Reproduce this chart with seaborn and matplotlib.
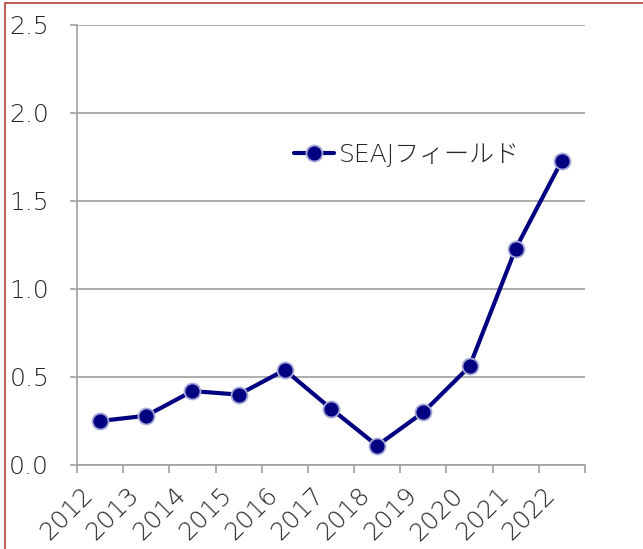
import matplotlib
matplotlib.use('Agg')
import matplotlib.pyplot as plt
import matplotlib.transforms as mtransforms
import seaborn as sns
import pandas as pd
import numpy as np
from matplotlib.lines import Line2D

years = ['2012', '2013', '2014', '2015', '2016', '2017', '2018', '2019', '2020', '2021', '2022']
values = [0.25, 0.28, 0.42, 0.40, 0.54, 0.32, 0.11, 0.30, 0.56, 1.23, 1.73]
series_name = 'SEAJフィールド'
yticks = [0.0, 0.5, 1.0, 1.5, 2.0, 2.5]

df = pd.DataFrame({'year': years, 'value': values})

sns.set_style('white')
plt.rcParams['font.family'] = ['DejaVu Sans', 'Noto Sans CJK JP']

fig = plt.figure(figsize=(6.43, 5.49), dpi=100)
ax = fig.add_axes([77 / 643, 1 - 465 / 549, 508 / 643, 440 / 549])

sns.lineplot(data=df, x='year', y='value', ax=ax, color='#000080', linewidth=3.0,
             marker='o', markersize=11.5, markerfacecolor='#000080',
             markeredgecolor='#a8a8d8', markeredgewidth=1.3, label=series_name)

grey = '#a0a0a0'
ax.set_ylim(0, 2.5)
ax.set_xlim(-0.5, len(years) - 0.5)
ax.set_yticks(yticks)
ax.set_yticklabels([f'{v:.1f}' for v in yticks], fontsize=18, fontweight='light')
ax.yaxis.grid(True, color=grey, linewidth=1.2)
ax.set_axisbelow(True)

ax.set_xticks(range(len(years)))
ax.set_xticklabels(years, rotation=45, ha='right', va='top', rotation_mode='anchor',
                   fontsize=18, fontweight='light')
ax.tick_params(axis='x', which='major', length=0, pad=13)
ax.set_xticks(np.arange(-0.5, len(years), 1), minor=True)
ax.tick_params(axis='x', which='minor', length=5.8, width=1.2, color=grey, direction='out')
ax.tick_params(axis='y', length=5, width=1.2, color=grey, direction='out', pad=15)
ax.xaxis.set_ticks_position('bottom')
ax.yaxis.set_ticks_position('left')
shift = mtransforms.ScaledTranslation(-19 / 100, 0, fig.dpi_scale_trans)
for lbl in ax.get_xticklabels():
    lbl.set_transform(lbl.get_transform() + shift)

for s in ['top', 'right']:
    ax.spines[s].set_visible(False)
for s in ['left', 'bottom']:
    ax.spines[s].set_color(grey)
    ax.spines[s].set_linewidth(1.2)

ax.set_xlabel('')
ax.set_ylabel('')
leg = ax.legend(loc='center left', bbox_to_anchor=(294 / 643, 1 - 155 / 549), bbox_transform=fig.transFigure,
                frameon=False, fontsize=18, handlelength=1.6, handletextpad=0.2, borderpad=0,
                borderaxespad=0)
for t in leg.get_texts():
    t.set_fontweight('light')

# outer border (top and left edges)
fig.add_artist(Line2D([5 / 643, 1], [1 - 3 / 549, 1 - 3 / 549], transform=fig.transFigure,
                      color='#c0605c', linewidth=1.5))
fig.add_artist(Line2D([5 / 643, 5 / 643], [0, 1 - 3 / 549], transform=fig.transFigure,
                      color='#c0605c', linewidth=1.5))

fig.savefig('out.png', dpi=100)
